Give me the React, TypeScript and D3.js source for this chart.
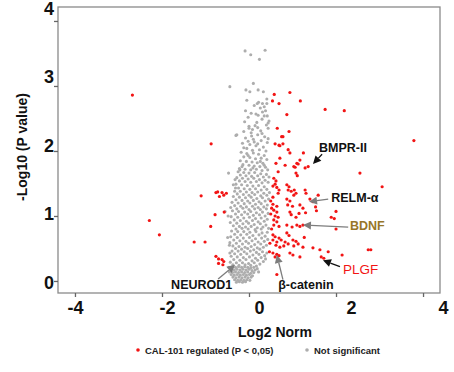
import React, { useEffect, useRef } from "react";
import * as d3 from "d3";

// log2 fold change, -log10 p — regulated (red)
const regulated: [number, number][] = [
  [-2.68, 2.86], [-0.87, 2.11], [-2.29, 0.93], [-2.06, 0.71], [-1.1, 1.31], [-1.26, 0.6], [-1.01, 0.6],
  [-0.88, 0.84], [-0.78, 1.02], [-0.57, 1.06], [-0.76, 1.36], [-0.72, 1.37], [-0.62, 1.36], [-0.52, 1.35],
  [-0.68, 1.3], [-0.58, 1.32], [-0.76, 0.38], [-0.7, 0.34], [-0.62, 0.33], [-0.58, 0.3], [-0.7, 0.27], [-0.6, 0.25],
  [3.79, 2.16], [3.06, 1.45], [2.55, 1.66], [2.19, 2.62], [1.75, 2.64],
  [0.58, 2.87], [0.94, 2.9], [0.54, 2.77], [0.69, 2.73], [1.18, 2.77], [0.87, 2.56], [0.65, 2.35], [0.92, 2.3],
  [0.75, 2.22], [0.78, 2.22], [0.6, 2.11], [0.69, 2.09], [0.78, 2.11], [0.71, 2.08],
  [0.9, 2.02], [0.94, 1.97], [1.25, 1.97], [0.71, 1.89], [0.62, 1.81], [0.83, 1.78], [1.1, 1.81], [1.06, 1.75],
  [1.17, 1.86], [1.36, 1.76], [0.67, 1.68], [1.08, 1.66], [1.11, 1.62], [1.03, 1.76], [1.13, 1.8], [1.29, 1.74],
  [0.57, 1.58], [0.62, 1.54], [0.6, 1.49], [0.55, 1.46], [0.64, 1.44], [0.87, 1.48], [0.92, 1.45], [0.9, 1.4],
  [0.97, 1.38], [0.69, 1.4], [0.67, 1.35], [1.04, 1.4], [1.08, 1.35], [1.03, 1.32], [1.29, 1.4], [1.31, 1.35],
  [1.4, 1.26], [1.47, 1.22], [1.59, 1.32], [0.55, 1.29], [0.5, 1.23], [0.55, 1.18], [0.64, 1.15], [0.52, 1.12],
  [0.57, 1.09], [0.64, 1.06], [0.87, 1.26], [0.94, 1.23], [0.89, 1.17], [1.0, 1.15], [1.17, 1.17], [1.24, 1.12],
  [0.5, 1.03], [0.6, 1.0], [0.67, 0.98], [0.57, 0.94], [0.64, 0.91], [0.94, 1.06], [0.97, 1.02], [1.08, 0.98],
  [1.15, 1.04], [1.3, 1.05], [1.53, 1.14], [1.55, 1.08], [1.89, 0.98], [1.96, 0.96], [2.0, 1.07],
  [0.57, 0.86], [0.69, 0.84], [0.52, 0.8], [0.87, 0.86], [0.99, 0.83], [1.1, 0.86], [1.17, 0.84], [1.24, 0.86],
  [2.0, 0.8], [0.87, 0.74], [0.92, 0.7], [0.55, 0.71], [0.6, 0.68], [0.69, 0.66], [1.01, 0.63], [1.08, 0.61],
  [1.27, 0.67], [0.55, 0.63], [0.48, 0.58], [0.64, 0.6], [0.74, 0.63], [0.83, 0.6], [0.62, 0.55], [0.71, 0.52],
  [0.8, 0.54], [0.9, 0.57], [1.03, 0.54], [1.13, 0.57], [1.24, 0.52], [1.47, 0.51], [1.63, 0.48], [1.82, 0.45],
  [2.14, 0.4], [2.74, 0.48], [2.8, 0.48], [0.55, 0.43], [0.64, 0.41], [0.6, 0.37], [0.69, 0.39], [0.94, 0.43],
  [1.01, 0.4], [1.17, 0.37], [1.66, 0.37], [1.72, 0.35], [0.64, 0.1], [0.47, 0.45],
];

// not significant (grey)
const notSignificant: [number, number][] = [
  [-0.09, 3.54], [0.04, 3.48], [0.37, 3.55], [0.24, 3.41],
  [-0.44, 2.99], [0.1, 3.04], [-0.07, 2.94], [0.02, 2.91], [0.21, 2.94], [0.33, 2.91], [0.41, 2.8], [0.19, 2.73],
  [0.31, 2.73], [0.41, 2.73], [-0.08, 2.62], [0.16, 2.57], [0.21, 2.55], [0.35, 2.54], [0.42, 2.54], [0.46, 2.46],
  [0.44, 2.43], [0.0, 2.38], [0.0, 2.35], [0.2, 2.36],
  [-0.05, 2.78], [0.12, 2.7], [0.26, 2.66], [0.38, 2.62], [0.05, 2.58], [0.3, 2.49], [-0.1, 2.45], [0.18, 2.44],
  [0.4, 2.4], [0.08, 2.33], [0.27, 2.31], [-0.02, 2.52], [0.35, 2.68], [0.22, 2.75], [0.14, 2.39], [0.44, 2.35],
  [-0.12, 2.3], [0.31, 2.6],
  [-0.3, 2.24], [0.05, 2.28], [0.2, 2.25], [0.36, 2.22], [-0.08, 2.2], [0.1, 2.18], [0.28, 2.16], [0.42, 2.13],
  [-0.15, 2.12], [0.02, 2.1], [0.16, 2.08], [0.33, 2.06], [-0.05, 2.04], [0.24, 2.02], [0.39, 2.0], [0.08, 2.01],
  [-0.12, 2.05], [0.12, 2.14], [0.3, 2.27], [-0.02, 2.15], [0.2, 2.11], [0.44, 2.19], [0.06, 2.23],
  [-0.18, 1.98], [-0.05, 1.96], [0.1, 1.97], [0.22, 1.95], [0.35, 1.93], [-0.12, 1.91], [0.02, 1.9], [0.15, 1.88],
  [0.28, 1.89], [0.41, 1.87], [-0.2, 1.85], [-0.06, 1.84], [0.07, 1.83], [0.19, 1.82], [0.32, 1.81], [-0.14, 1.79],
  [0.0, 1.78], [0.12, 1.77], [0.25, 1.76], [0.38, 1.75], [-0.22, 1.73], [-0.09, 1.72], [0.04, 1.71], [0.17, 1.72],
  [0.3, 1.7], [0.43, 1.71], [-0.02, 1.93], [0.26, 1.84], [-0.16, 1.76], [0.09, 1.74], [0.35, 1.78],
  [-0.47, 1.66], [-0.36, 1.48], [-0.25, 1.68], [-0.12, 1.67], [0.0, 1.66], [0.13, 1.67], [0.27, 1.65], [0.4, 1.64],
  [-0.2, 1.63], [-0.07, 1.62], [0.06, 1.61], [0.2, 1.62], [0.33, 1.6], [-0.28, 1.59], [-0.15, 1.58], [-0.02, 1.57],
  [0.11, 1.58], [0.24, 1.56], [0.37, 1.55], [-0.22, 1.54], [-0.09, 1.53], [0.04, 1.52], [0.17, 1.53], [0.3, 1.51],
  [0.44, 1.52], [-0.3, 1.49], [-0.17, 1.48], [-0.04, 1.47], [0.09, 1.46], [0.22, 1.47], [0.35, 1.45], [-0.24, 1.43],
  [-0.11, 1.42], [0.02, 1.41], [0.15, 1.42], [0.28, 1.4], [0.41, 1.41], [-0.32, 1.56], [0.46, 1.6],
  [-0.33, 1.38], [-0.2, 1.38], [-0.06, 1.37], [0.07, 1.36], [0.2, 1.37], [0.34, 1.35], [-0.27, 1.34], [-0.13, 1.33],
  [0.0, 1.32], [0.13, 1.33], [0.27, 1.31], [0.41, 1.32], [-0.36, 1.3], [-0.22, 1.29], [-0.08, 1.28], [0.05, 1.29],
  [0.18, 1.27], [0.31, 1.28], [0.45, 1.26], [-0.3, 1.25], [-0.16, 1.24], [-0.03, 1.23], [0.1, 1.24], [0.23, 1.22],
  [0.37, 1.23], [-0.39, 1.21], [-0.25, 1.2], [-0.11, 1.19], [0.02, 1.2], [0.15, 1.18], [0.28, 1.19], [0.42, 1.17],
  [-0.33, 1.16], [-0.19, 1.15], [-0.06, 1.14], [0.08, 1.15], [0.21, 1.13], [0.34, 1.14], [-0.28, 1.11], [-0.14, 1.12],
  [0.0, 1.1], [0.13, 1.11], [0.26, 1.1], [0.4, 1.11], [-0.42, 1.13], [0.47, 1.36],
  [-0.55, 1.07], [-0.48, 1.0], [-0.38, 1.08], [-0.24, 1.07], [-0.1, 1.06], [0.04, 1.07], [0.17, 1.05], [0.31, 1.06],
  [0.44, 1.04], [-0.31, 1.03], [-0.17, 1.02], [-0.03, 1.03], [0.1, 1.01], [0.24, 1.02], [0.37, 1.0], [-0.41, 0.99],
  [-0.26, 0.98], [-0.12, 0.97], [0.01, 0.98], [0.15, 0.96], [0.28, 0.97], [0.42, 0.95], [-0.34, 0.94], [-0.2, 0.93],
  [-0.06, 0.92], [0.08, 0.93], [0.21, 0.91], [0.35, 0.92], [-0.43, 0.9], [-0.28, 0.89], [-0.14, 0.88], [-0.01, 0.89],
  [0.12, 0.87], [0.26, 0.88], [0.39, 0.86], [-0.36, 0.85], [-0.22, 0.84], [-0.08, 0.83], [0.05, 0.84], [0.19, 0.82],
  [0.32, 0.83], [0.45, 0.81], [-0.3, 0.8], [-0.16, 0.81], [-0.02, 0.8], [0.14, 0.79], [0.28, 0.8],
  [-0.49, 0.67], [-0.45, 0.55], [-0.4, 0.77], [-0.26, 0.76], [-0.12, 0.76], [0.02, 0.75], [0.16, 0.76], [0.3, 0.74],
  [0.42, 0.75], [-0.33, 0.72], [-0.19, 0.71], [-0.05, 0.72], [0.09, 0.7], [0.23, 0.71], [0.37, 0.69], [-0.42, 0.68],
  [-0.27, 0.67], [-0.13, 0.66], [0.01, 0.67], [0.15, 0.65], [0.29, 0.66], [0.43, 0.64], [-0.35, 0.63], [-0.21, 0.62],
  [-0.07, 0.61], [0.07, 0.62], [0.21, 0.6], [0.35, 0.61], [-0.44, 0.59], [-0.29, 0.58], [-0.15, 0.57], [-0.01, 0.58],
  [0.13, 0.56], [0.27, 0.57], [0.4, 0.55], [-0.37, 0.54], [-0.23, 0.53], [-0.09, 0.52], [0.05, 0.53], [0.19, 0.51],
  [0.33, 0.52], [-0.31, 0.5], [-0.17, 0.49], [-0.03, 0.5], [0.11, 0.48], [0.25, 0.49],
  [-0.44, 0.43], [-0.39, 0.46], [-0.25, 0.46], [-0.11, 0.45], [0.03, 0.46], [0.17, 0.44], [0.31, 0.45], [0.41, 0.43],
  [-0.33, 0.42], [-0.19, 0.41], [-0.05, 0.42], [0.09, 0.4], [0.23, 0.41], [0.36, 0.39], [-0.41, 0.38], [-0.27, 0.37],
  [-0.13, 0.36], [0.01, 0.37], [0.15, 0.35], [0.28, 0.36], [-0.35, 0.33], [-0.21, 0.32], [-0.07, 0.33], [0.07, 0.31],
  [0.2, 0.32], [0.33, 0.3], [-0.43, 0.29], [-0.29, 0.28], [-0.15, 0.28], [-0.01, 0.27], [0.12, 0.28], [0.25, 0.26],
  [-0.37, 0.25], [-0.23, 0.24], [-0.09, 0.25], [0.04, 0.24], [0.17, 0.23], [0.38, 0.34],
  [-0.46, 0.21], [-0.38, 0.22], [-0.31, 0.21], [-0.24, 0.22], [-0.17, 0.21], [-0.1, 0.22], [-0.03, 0.21], [0.04, 0.2],
  [0.11, 0.21], [0.19, 0.19], [-0.42, 0.18], [-0.35, 0.17], [-0.28, 0.18], [-0.21, 0.17], [-0.14, 0.18], [-0.07, 0.17],
  [0.0, 0.18], [0.07, 0.16], [0.14, 0.17], [-0.45, 0.14], [-0.38, 0.13], [-0.31, 0.14], [-0.24, 0.13], [-0.17, 0.14],
  [-0.1, 0.13], [-0.03, 0.14], [0.04, 0.12], [0.11, 0.13], [0.22, 0.14], [-0.41, 0.1], [-0.34, 0.09], [-0.27, 0.1],
  [-0.2, 0.09], [-0.13, 0.1], [-0.06, 0.09], [0.01, 0.1], [0.08, 0.08], [-0.37, 0.06], [-0.3, 0.05], [-0.23, 0.06],
  [-0.16, 0.05], [-0.09, 0.06], [-0.02, 0.05], [0.05, 0.06], [-0.33, 0.02], [-0.26, 0.01], [-0.19, 0.02], [-0.12, 0.01],
  [-0.05, 0.02], [0.02, 0.01], [-0.29, -0.02], [-0.22, -0.01], [-0.15, -0.02], [-0.08, -0.01],
  [-0.28, 2.25], [-0.21, 1.71], [-0.31, 1.43],
];

const xTicks = [-4, -2, 0, 2, 4];
const yTicks = [0, 1, 2, 3, 4];

// gene labels: text anchor, arrow start, arrow tip (data units)
const genes = ["BMPR-II", "RELM-α", "BDNF", "PLGF", "NEUROD1", "β-catenin"];
const geneText: [number, number][] = [[1.61, 2.06], [1.89, 1.28], [2.32, 0.85], [2.16, 0.17], [-1.79, -0.05], [0.67, -0.06]];
const arrowFrom: [number, number][] = [[1.68, 1.95], [1.82, 1.26], [2.28, 0.83], [2.09, 0.22], [-0.71, 0.03], [0.78, 0.02]];
const arrowTo: [number, number][] = [[1.47, 1.8], [1.38, 1.22], [1.24, 0.86], [1.7, 0.32], [-0.32, 0.25], [0.64, 0.4]];

const FONT = "'Liberation Sans', Arial, sans-serif";
const RED = "#f21414";
const GREY = "#adadad";
const textColor: Record<string, string> = { BDNF: "#977628", PLGF: "#f21414" };
const arrowColor: Record<string, string> = { "BMPR-II": "#111", PLGF: "#111" };

const App = () => {
  const svgRef = useRef<SVGSVGElement | null>(null);

  useEffect(() => {
    const svg = d3.select(svgRef.current);
    svg.selectAll("*").remove();

    const x = d3.scaleLinear().domain([-4.39, 4.39]).range([58, 440]);
    const y = d3.scaleLinear().domain([-0.185, 4.215]).range([293, 7]);
    // tick labels in the original sit a little off the ticks
    const xLab = d3.scaleLinear().domain([-4, 4]).range([75.5, 443.5]);
    const yLab = d3.scaleLinear().domain([0, 4]).range([282, 8]);

    // frame
    svg
      .append("rect")
      .attr("x", 58)
      .attr("y", 7)
      .attr("width", 382)
      .attr("height", 286)
      .attr("fill", "none")
      .attr("stroke", "#8a8a8a")
      .attr("stroke-width", 1.3);

    // x ticks
    svg
      .append("g")
      .attr("transform", "translate(0,293)")
      .call(d3.axisBottom(x).tickValues(xTicks).tickSize(4).tickFormat(() => ""))
      .call((g) => g.select(".domain").remove())
      .call((g) => g.selectAll("line").attr("stroke", "#666").attr("stroke-width", 1.3));

    // y ticks
    svg
      .append("g")
      .attr("transform", "translate(58,0)")
      .call(d3.axisLeft(y).tickValues(yTicks).tickSize(4).tickFormat(() => ""))
      .call((g) => g.select(".domain").remove())
      .call((g) => g.selectAll("line").attr("stroke", "#666").attr("stroke-width", 1.3));

    svg
      .append("g")
      .selectAll("text")
      .data(xTicks)
      .join("text")
      .attr("x", (d) => xLab(d))
      .attr("y", 314)
      .attr("text-anchor", "middle")
      .style("font-family", FONT)
      .style("font-weight", "bold")
      .style("font-size", "18px")
      .style("fill", "#111")
      .text((d) => String(d));

    svg
      .append("g")
      .selectAll("text")
      .data(yTicks)
      .join("text")
      .attr("x", 54)
      .attr("y", (d) => yLab(d) + 6.5)
      .attr("text-anchor", "end")
      .style("font-family", FONT)
      .style("font-weight", "bold")
      .style("font-size", "18px")
      .style("fill", "#111")
      .text((d) => String(d));

    // axis titles
    svg
      .append("text")
      .attr("x", 275)
      .attr("y", 337)
      .attr("text-anchor", "middle")
      .style("font-family", FONT)
      .style("font-weight", "bold")
      .style("font-size", "14px")
      .style("fill", "#111")
      .text("Log2 Norm");

    svg
      .append("text")
      .attr("transform", "translate(27,147) rotate(-90)")
      .attr("text-anchor", "middle")
      .style("font-family", FONT)
      .style("font-weight", "bold")
      .style("font-size", "14px")
      .style("fill", "#111")
      .text("-Log10 (P value)");

    // points
    svg
      .append("g")
      .selectAll("circle")
      .data(notSignificant)
      .join("circle")
      .attr("cx", (d) => x(d[0]))
      .attr("cy", (d) => y(d[1]))
      .attr("r", 1.55)
      .attr("fill", GREY);

    svg
      .append("g")
      .selectAll("circle")
      .data(regulated)
      .join("circle")
      .attr("cx", (d) => x(d[0]))
      .attr("cy", (d) => y(d[1]))
      .attr("r", 1.6)
      .attr("fill", RED);

    // annotations
    genes.forEach((name, i) => {
      const col = arrowColor[name] || "#7d7d7d";
      const x1 = x(arrowFrom[i][0]);
      const y1 = y(arrowFrom[i][1]);
      const x2 = x(arrowTo[i][0]);
      const y2 = y(arrowTo[i][1]);
      const len = Math.hypot(x2 - x1, y2 - y1);
      const ux = (x2 - x1) / len;
      const uy = (y2 - y1) / len;
      const head = 8;
      const half = 4;
      const bx = x2 - ux * head;
      const by = y2 - uy * head;
      svg
        .append("line")
        .attr("x1", x1)
        .attr("y1", y1)
        .attr("x2", bx)
        .attr("y2", by)
        .attr("stroke", col)
        .attr("stroke-width", 1.3);
      svg
        .append("path")
        .attr(
          "d",
          `M${x2},${y2}L${bx - uy * half},${by + ux * half}L${bx + uy * half},${by - ux * half}Z`
        )
        .attr("fill", col);

      svg
        .append("text")
        .attr("x", x(geneText[i][0]))
        .attr("y", y(geneText[i][1]) + 4.5)
        .style("font-family", FONT)
        .style("font-weight", name === "PLGF" ? "normal" : "bold")
        .style("font-size", name === "PLGF" ? "13.5px" : "12.5px")
        .style("fill", textColor[name] || "#111")
        .text(name);
    });

    // legend
    const legend = svg.append("g").attr("transform", "translate(0,350)");
    legend.append("circle").attr("cx", 138).attr("cy", 0).attr("r", 1.8).attr("fill", RED);
    legend
      .append("text")
      .attr("x", 145)
      .attr("y", 3.5)
      .style("font-family", FONT)
      .style("font-weight", "bold")
      .style("font-size", "9.5px")
      .style("fill", "#222")
      .text("CAL-101 regulated (P < 0,05)");
    legend.append("circle").attr("cx", 307).attr("cy", 0).attr("r", 1.8).attr("fill", GREY);
    legend
      .append("text")
      .attr("x", 314)
      .attr("y", 3.5)
      .style("font-family", FONT)
      .style("font-weight", "bold")
      .style("font-size", "9.5px")
      .style("fill", "#222")
      .text("Not significant");
  }, []);

  return (
    <svg
      ref={svgRef}
      width={454}
      height={372}
      style={{ position: "absolute", left: 0, top: 0, background: "#fff" }}
    />
  );
};

export default App;
